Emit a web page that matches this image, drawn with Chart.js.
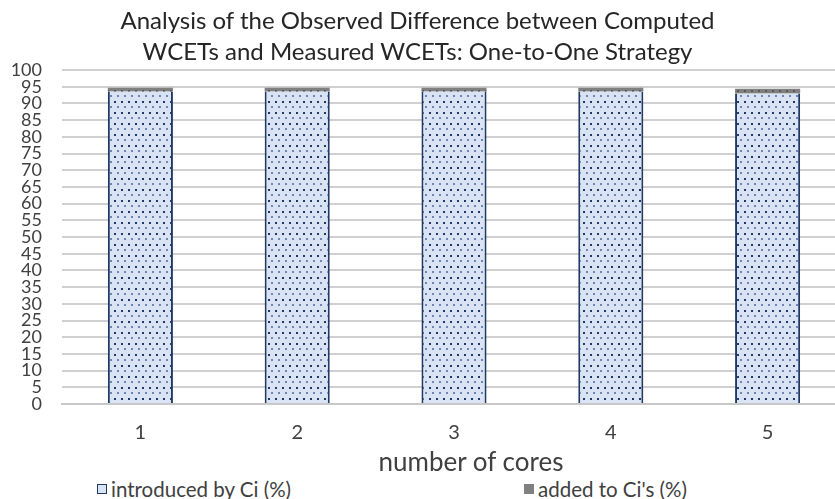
<!DOCTYPE html>
<html>
<head>
<meta charset="utf-8">
<script src="https://cdn.jsdelivr.net/npm/chart.js@4"></script>
<style>
    html, body { margin: 0; padding: 0; background: #fff; overflow: hidden; }
    #wrap { position: relative; width: 850px; height: 499px;
            font-family: Lato, "Open Sans", sans-serif; }
    canvas { position: absolute; left: 0; top: 0; }
    #title { position: absolute; top: 4px; left: 0; width: 835px; text-align: center;
             font-size: 24px; line-height: 31px; color: #262626; }
    #xtitle { position: absolute; top: 446px; left: 371px; width: 200px; text-align: center;
              font-size: 26px; line-height: 30px; color: #404040; }
    #legend { position: absolute; top: 477px; left: 0; width: 835px; height: 22px;
              font-size: 20.5px; color: #404040; }
    .item { position: absolute; top: 0; display: flex; align-items: center; }
    .box { width: 10px; height: 10px; margin-right: 4px; }
</style>
</head>
<body>
<div id="wrap">
    <canvas id="chart" width="850" height="476"></canvas>
    <div id="title">Analysis of the Observed Difference between Computed<br>WCETs and Measured WCETs: One-to-One Strategy</div>
    <div id="xtitle">number of cores</div>
    <div id="legend">
        <div class="item" style="left:97px"><span class="box" id="box1"></span>introduced by Ci (%)</div>
        <div class="item" style="left:524px"><span class="box" id="box2"></span>added to Ci's (%)</div>
    </div>
</div>
<script>
// values
const cores = ['1', '2', '3', '4', '5'];
const introducedByCi = [93.6, 93.6, 93.6, 93.6, 93.0];
const addedToCis = [1.1, 1.1, 1.1, 1.1, 1.4];

const fontFamily = 'Lato, "Open Sans", sans-serif';

// dotted fills like the Excel pattern
function makePattern(bg, dark, light) {
    const c = document.createElement('canvas');
    c.width = 7; c.height = 11;
    const g = c.getContext('2d');
    g.fillStyle = bg;
    g.fillRect(0, 0, 7, 11);
    g.fillStyle = dark;
    g.fillRect(2, 2, 2, 2);
    g.fillStyle = light;
    g.fillRect(5, 7, 2, 2);
    return g.createPattern(c, 'repeat');
}
const blueFill = makePattern('#dae3f3', '#1f3864', '#6f86b3');
const greyFill = makePattern('#808080', '#5a5a5a', '#707070');

// legend swatches
document.getElementById('box1').style.cssText += 'background:#dae3f3;border:1px solid #1f3864;box-sizing:border-box;';
document.getElementById('box2').style.cssText += 'background:#808080;';

new Chart(document.getElementById('chart'), {
    type: 'bar',
    data: {
        labels: cores,
        datasets: [
            {
                label: 'introduced by Ci (%)',
                data: introducedByCi,
                backgroundColor: blueFill,
                borderColor: '#1f3864',
                borderWidth: { left: 2, right: 2, top: 0, bottom: 0 },
                borderSkipped: false,
                barPercentage: 0.415,
                categoryPercentage: 1
            },
            {
                label: "added to Ci's (%)",
                data: addedToCis,
                backgroundColor: greyFill,
                borderWidth: 0,
                barPercentage: 0.415,
                categoryPercentage: 1
            }
        ]
    },
    options: {
        responsive: false,
        animation: false,
        layout: { padding: { left: 0, right: 4, top: 70, bottom: 0 } },
        plugins: {
            legend: { display: false },
            tooltip: { enabled: false },
            title: { display: false }
        },
        scales: {
            x: {
                stacked: true,
                grid: { display: false, drawTicks: false },
                border: { color: '#c8c8c8', width: 2 },
                ticks: { color: '#404040', font: { family: fontFamily, size: 20, lineHeight: 1.2 }, padding: 17 },
                afterFit: axis => { axis.height = 72; }
            },
            y: {
                stacked: true,
                min: 0,
                max: 100,
                grid: { color: '#d0d0d0', lineWidth: 2, drawTicks: false },
                border: { display: false },
                ticks: {
                    stepSize: 5,
                    autoSkip: false,
                    color: '#404040',
                    font: { family: fontFamily, size: 18, lineHeight: 1 },
                    padding: 20
                },
                afterFit: axis => { axis.width = 62; }
            }
        }
    }
});
</script>
</body>
</html>
